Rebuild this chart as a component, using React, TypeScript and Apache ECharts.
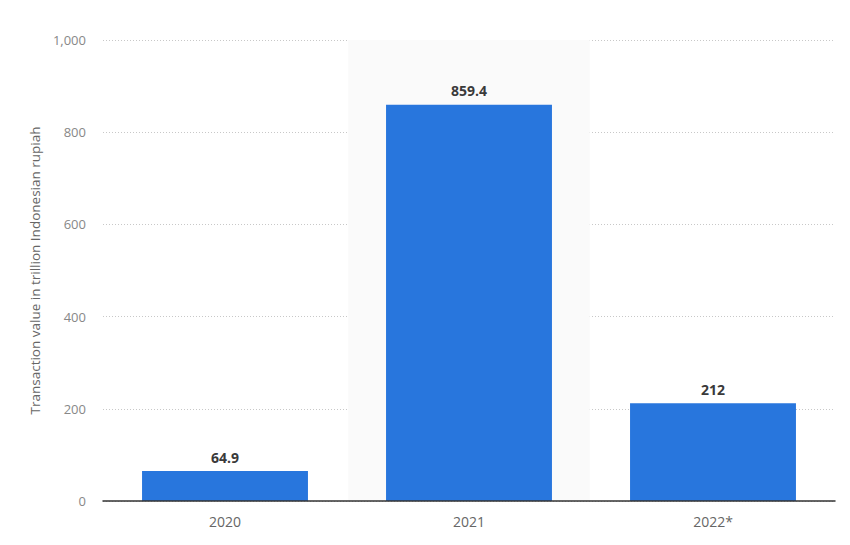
import React, { useEffect, useRef } from 'react'
import * as echarts from 'echarts'

const categories = ['2020', '2021', '2022*']
const values = [64.9, 859.4, 212]
const labels = ['64.9', '859.4', '212']
// light band behind the highlighted year
const highlight = [null, 1000, null]

const App = () => {
  const chartRef = useRef<HTMLDivElement>(null)

  useEffect(() => {
    if (!chartRef.current) return
    const chart = echarts.init(chartRef.current, null, { renderer: 'svg' })

    chart.setOption({
      animation: false,
      grid: { left: 95, right: 7, top: 32, bottom: 36 },
      xAxis: [
        {
          type: 'category',
          data: categories,
          axisTick: { show: false },
          axisLine: { lineStyle: { color: '#333', width: 1.5 } },
          axisLabel: { color: '#666', fontSize: 14, margin: 13, fontFamily: 'Open Sans' },
          z: 3,
        },
        {
          type: 'category',
          data: categories,
          show: false,
        },
      ],
      yAxis: {
        type: 'value',
        min: 0,
        max: 1000,
        interval: 200,
        name: 'Transaction value in trillion Indonesian rupiah',
        nameLocation: 'middle',
        nameGap: 61,
        nameTextStyle: { color: '#666', fontSize: 13.5, fontFamily: 'Open Sans' },
        axisLabel: {
          color: '#888',
          fontSize: 13,
          margin: 17,
          fontFamily: 'Open Sans',
          formatter: (v: number) => v.toLocaleString('en-US'),
        },
        splitLine: { lineStyle: { color: '#c8c8c8', type: [1, 2] } },
      },
      series: [
        {
          type: 'bar',
          xAxisIndex: 1,
          data: highlight,
          barWidth: '99%',
          itemStyle: { color: '#fafafa' },
          silent: true,
          z: 0,
        },
        {
          type: 'bar',
          data: values,
          barWidth: '68%',
          itemStyle: { color: '#2876dd' },
          label: {
            show: true,
            position: 'top',
            distance: 7,
            color: '#3a3a3a',
            fontSize: 14,
            fontWeight: 'bold',
            fontFamily: 'Open Sans',
            formatter: (p: any) => labels[p.dataIndex],
          },
          z: 2,
        },
      ],
    })

    return () => {
      chart.dispose()
    }
  }, [])

  return <div ref={chartRef} style={{ width: '834px', height: '529px' }} />
}

export default App
